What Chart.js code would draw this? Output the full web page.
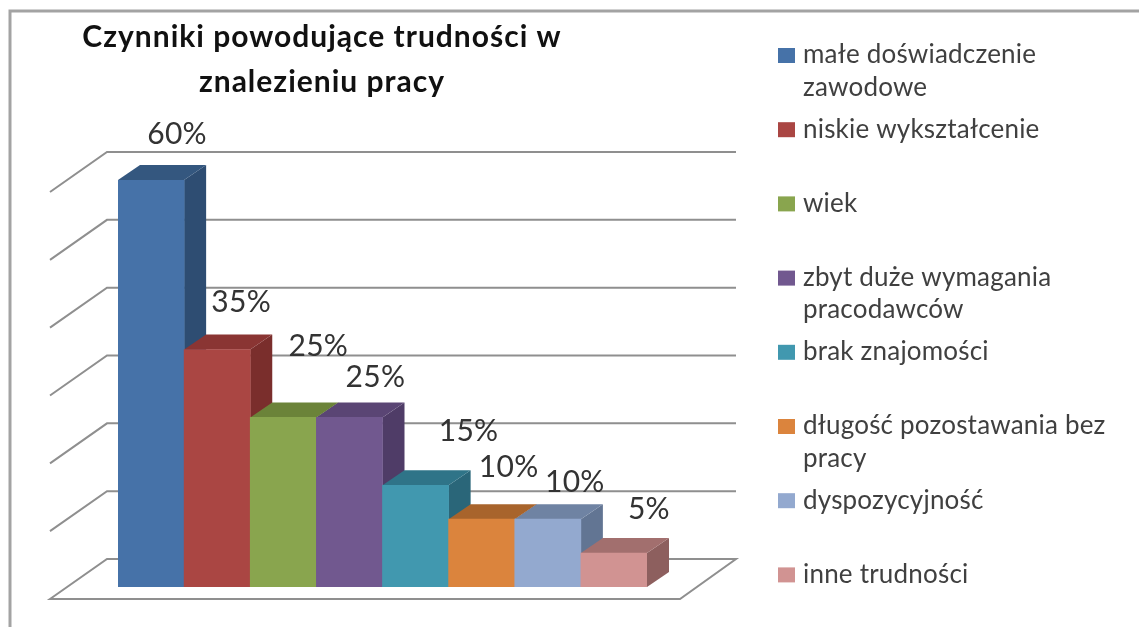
<!DOCTYPE html>
<html>
<head>
<meta charset="utf-8">
<title>Czynniki powodujące trudności w znalezieniu pracy</title>
<script src="https://cdn.jsdelivr.net/npm/chart.js@4"></script>
<style>
  html, body { margin: 0; padding: 0; background: #fff; overflow: hidden; }
  canvas { display: block; filter: blur(0.5px); }
</style>
</head>
<body>
<canvas id="chart" width="1139" height="627"></canvas>
<script>
const titleLines = ["Czynniki powodujące trudności w", "znalezieniu pracy"];
const categories = [
  "małe doświadczenie zawodowe",
  "niskie wykształcenie",
  "wiek",
  "zbyt duże wymagania pracodawców",
  "brak znajomości",
  "długość pozostawania bez pracy",
  "dyspozycyjność",
  "inne trudności",
];
const values = [60, 35, 25, 25, 15, 10, 10, 5];
const frontColors = ["#4672a8", "#aa4643", "#89a54e", "#71588f", "#4198af", "#db843d", "#93a9cf", "#d19392"];
const topColors = ["#34577f", "#8a3533", "#6b8339", "#5a4574", "#2f7488", "#a8642c", "#6f83a3", "#a26f6e"];
const sideColors = ["#2e4d72", "#7a2e2c", "#5f7433", "#4f3c67", "#2a6679", "#8f5525", "#627593", "#8d5f5e"];

// the labels in the original sit wherever the author dragged them
const labelNudgeX = [26, 24, 35, 26, 53, 27, 27, 35];
const labelNudgeY = [-46, -47, -71, -40, -54, -52, -37, -44];

const GRID = "#8f8f8f";
const DEPTH_X = 22;
const DEPTH_Y = 15;

function fillPoly(ctx, pts, color) {
  ctx.fillStyle = color;
  ctx.beginPath();
  pts.forEach((p, i) => (i ? ctx.lineTo(p[0], p[1]) : ctx.moveTo(p[0], p[1])));
  ctx.closePath();
  ctx.fill();
}

function wrapLabel(ctx, text, maxWidth) {
  const lines = [];
  let line = "";
  text.split(" ").forEach((word) => {
    const test = line ? line + " " + word : word;
    if (ctx.measureText(test).width > maxWidth && line) {
      lines.push(line);
      line = word;
    } else {
      line = test;
    }
  });
  lines.push(line);
  return lines;
}

const wallsPlugin = {
  id: "walls",
  beforeDatasetsDraw(chart) {
    const { ctx, chartArea, scales } = chart;
    const backLeft = chartArea.left - 11;
    const frontLeft = chartArea.left - 68;
    const backRight = chartArea.right + 89;
    const frontRight = chartArea.right + 33;

    ctx.save();
    // frame of the pasted picture
    ctx.strokeStyle = "#a3a3a3";
    ctx.lineWidth = 3;
    ctx.beginPath();
    ctx.moveTo(10, 627);
    ctx.lineTo(10, 11);
    ctx.lineTo(1139, 11);
    ctx.stroke();

    ctx.strokeStyle = GRID;
    ctx.lineWidth = 2;
    scales.y.ticks.forEach((tick) => {
      const y = scales.y.getPixelForValue(tick.value);
      ctx.beginPath();
      ctx.moveTo(frontLeft, y + 12);
      ctx.lineTo(backLeft, y - 28);
      ctx.lineTo(backRight, y - 28);
      if (tick.value === 0) {
        ctx.lineTo(frontRight, y + 12);
        ctx.closePath();
      }
      ctx.stroke();
    });

    // tops and sides go under the fronts, left to right
    chart.getDatasetMeta(0).data.forEach((bar, i) => {
      const left = bar.x - bar.width / 2;
      const right = bar.x + bar.width / 2;
      fillPoly(ctx, [
        [right, bar.y],
        [right + DEPTH_X, bar.y - DEPTH_Y],
        [right + DEPTH_X, bar.base - DEPTH_Y],
        [right, bar.base],
      ], sideColors[i]);
      fillPoly(ctx, [
        [left, bar.y],
        [left + DEPTH_X, bar.y - DEPTH_Y],
        [right + DEPTH_X, bar.y - DEPTH_Y],
        [right, bar.y],
      ], topColors[i]);
    });
    ctx.restore();
  },
  afterDatasetsDraw(chart) {
    const { ctx } = chart;
    ctx.save();
    ctx.textBaseline = "middle";

    // data labels
    ctx.fillStyle = "#333";
    ctx.font = "30px Lato";
    ctx.letterSpacing = "0.3px";
    ctx.textAlign = "center";
    chart.getDatasetMeta(0).data.forEach((bar, i) => {
      ctx.fillText(values[i] + "%", bar.x + labelNudgeX[i], bar.y + labelNudgeY[i]);
    });

    // title
    ctx.fillStyle = "#111";
    ctx.font = "bold 30px Lato";
    ctx.letterSpacing = "1px";
    titleLines.forEach((line, i) => ctx.fillText(line, 322, 37 + i * 45));

    // legend, one slot per category
    ctx.textAlign = "left";
    ctx.font = "26px Lato";
    ctx.letterSpacing = "0.2px";
    categories.forEach((name, i) => {
      const y = 55 + i * 74.2;
      ctx.fillStyle = frontColors[i];
      ctx.fillRect(778, y - 7, 17, 15);
      ctx.fillStyle = "#404040";
      wrapLabel(ctx, name, 340).forEach((line, n) => ctx.fillText(line, 803, y + n * 32.5));
    });
    ctx.restore();
  },
};

new Chart(document.getElementById("chart"), {
  type: "bar",
  data: {
    labels: categories,
    datasets: [
      {
        data: values,
        backgroundColor: frontColors,
        borderWidth: 0,
        barPercentage: 1,
        categoryPercentage: 1,
      },
    ],
  },
  options: {
    responsive: false,
    animation: false,
    layout: { padding: { left: 118, right: 492, top: 180, bottom: 40 } },
    plugins: {
      legend: { display: false },
      title: { display: false },
      tooltip: { enabled: false },
    },
    scales: {
      x: { display: false },
      y: { display: false, min: 0, max: 60, ticks: { stepSize: 10 } },
    },
  },
  plugins: [wallsPlugin],
});
</script>
</body>
</html>
